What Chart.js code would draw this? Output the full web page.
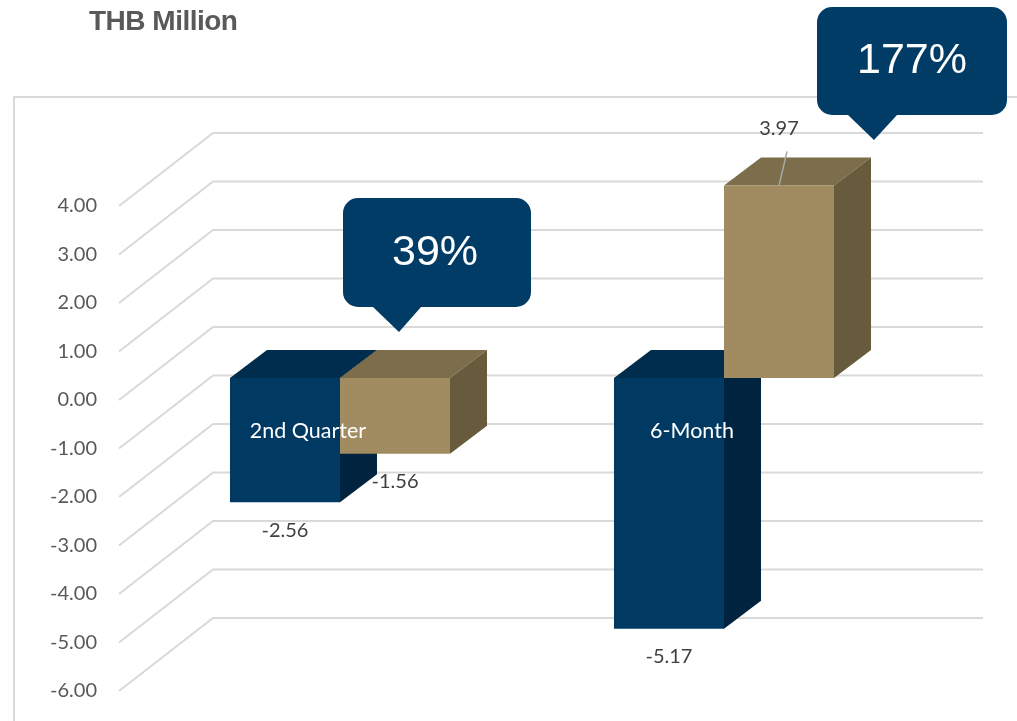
<!DOCTYPE html>
<html>
<head>
<meta charset="utf-8">
<style>
  html, body { margin: 0; padding: 0; background: #fff; }
  canvas { display: block; }
</style>
</head>
<body>
<canvas id="chart" width="1017" height="721"></canvas>
<script src="https://cdn.jsdelivr.net/npm/chart.js@4.4.0/dist/chart.umd.min.js"></script>
<script>
// data
const categories = ['2nd Quarter', '6-Month'];
const lastYear = [-2.56, -5.17];
const thisYear = [-1.56, 3.97];
const yTicks = [4, 3, 2, 1, 0, -1, -2, -3, -4, -5, -6];
const growth = ['39%', '177%'];

// colours: front / top / side
const blue = ['#003A63', '#002D4E', '#00243F'];
const tan = ['#A08C60', '#7C6D4B', '#675A3D'];

// 3d offsets
const BAR_DX = 37, BAR_DY = 28;      // bar depth
const BACK_DX = 65, BACK_DY = 51;    // back wall from bar plane
const FRONT_DX = 29, FRONT_DY = 22;  // front edge from bar plane

function poly(ctx, pts, fill) {
  ctx.beginPath();
  ctx.moveTo(pts[0][0], pts[0][1]);
  for (let i = 1; i < pts.length; i++) ctx.lineTo(pts[i][0], pts[i][1]);
  ctx.closePath();
  ctx.fillStyle = fill;
  ctx.fill();
}

function callout(ctx, x, y, w, h, r, baseL, baseR, tipX, tipY, text, tx, ty) {
  ctx.beginPath();
  ctx.moveTo(x + r, y);
  ctx.lineTo(x + w - r, y);
  ctx.arcTo(x + w, y, x + w, y + r, r);
  ctx.lineTo(x + w, y + h - r);
  ctx.arcTo(x + w, y + h, x + w - r, y + h, r);
  ctx.lineTo(baseR, y + h);
  ctx.lineTo(tipX, tipY);
  ctx.lineTo(baseL, y + h);
  ctx.lineTo(x + r, y + h);
  ctx.arcTo(x, y + h, x, y + h - r, r);
  ctx.lineTo(x, y + r);
  ctx.arcTo(x, y, x + r, y, r);
  ctx.closePath();
  ctx.fillStyle = '#003C66';
  ctx.fill();
  ctx.fillStyle = '#ffffff';
  ctx.font = '43px "Liberation Sans", Arial, sans-serif';
  ctx.textAlign = 'center';
  ctx.textBaseline = 'middle';
  ctx.fillText(text, tx, ty);
}

const box3d = {
  id: 'box3d',
  beforeDraw(chart) {
    const ctx = chart.ctx;
    ctx.save();
    ctx.fillStyle = '#ffffff';
    ctx.fillRect(0, 0, chart.width, chart.height);
    // outer frame
    ctx.strokeStyle = '#d9d9d9';
    ctx.lineWidth = 2;
    ctx.strokeRect(14, 97, 1100, 700);
    ctx.restore();
  },
  beforeDatasetsDraw(chart) {
    const ctx = chart.ctx;
    const y = chart.scales.y;
    const area = chart.chartArea;
    ctx.save();
    // gridlines: diagonal on the floor edge, flat on the back wall
    ctx.strokeStyle = '#d9d9d9';
    ctx.lineWidth = 2;
    yTicks.forEach(v => {
      const py = y.getPixelForValue(v);
      ctx.beginPath();
      ctx.moveTo(area.left - FRONT_DX, py + FRONT_DY);
      ctx.lineTo(area.left + BACK_DX, py - BACK_DY);
      ctx.lineTo(983, py - BACK_DY);
      ctx.stroke();
    });
    // tops and sides of bars; fronts are drawn by the library
    [blue, tan].forEach((col, di) => {
      chart.getDatasetMeta(di).data.forEach(bar => {
        const l = bar.x - bar.width / 2, r = bar.x + bar.width / 2;
        const top = Math.min(bar.y, bar.base), bot = Math.max(bar.y, bar.base);
        poly(ctx, [[l, top], [r, top], [r + BAR_DX, top - BAR_DY], [l + BAR_DX, top - BAR_DY]], col[1]);
        poly(ctx, [[r, top], [r + BAR_DX, top - BAR_DY], [r + BAR_DX, bot - BAR_DY], [r, bot]], col[2]);
      });
    });
    ctx.restore();
  },
  afterDraw(chart) {
    const ctx = chart.ctx;
    const y = chart.scales.y;
    const x = chart.scales.x;
    const area = chart.chartArea;
    ctx.save();

    // title
    ctx.fillStyle = '#595959';
    ctx.font = 'bold 28px "Liberation Sans", Arial, sans-serif';
    ctx.letterSpacing = '-0.5px';
    ctx.textAlign = 'left';
    ctx.textBaseline = 'middle';
    ctx.fillText('THB Million', 89, 22);
    ctx.letterSpacing = '0px';

    // value axis labels on the front edge
    ctx.font = '20px Lato, "Open Sans", sans-serif';
    ctx.textAlign = 'right';
    yTicks.forEach(v => {
      ctx.fillText(v.toFixed(2), area.left - 51, y.getPixelForValue(v) + FRONT_DY);
    });

    // category labels
    ctx.fillStyle = '#ffffff';
    ctx.textAlign = 'center';
    ctx.font = '21.5px Lato, "Open Sans", sans-serif';
    categories.forEach((c, i) => {
      ctx.fillText(c, x.getPixelForValue(i) - 32, y.getPixelForValue(0) + 53);
    });

    // data labels
    ctx.font = '20px Lato, "Open Sans", sans-serif';
    ctx.fillStyle = '#404040';
    [lastYear, thisYear].forEach((series, di) => {
      const meta = chart.getDatasetMeta(di);
      series.forEach((v, i) => {
        const bar = meta.data[i];
        if (v < 0) {
          ctx.fillText(v.toFixed(2), bar.x, bar.y + 28);
        } else {
          ctx.strokeStyle = '#a6a6a6';
          ctx.lineWidth = 1.5;
          ctx.beginPath();
          ctx.moveTo(bar.x, bar.y);
          ctx.lineTo(bar.x + 8, bar.y - 34);
          ctx.stroke();
          ctx.fillText(v.toFixed(2), bar.x, bar.y - 57);
        }
      });
    });

    // growth callouts
    callout(ctx, 343, 198, 188, 109, 15, 373, 421, 399, 332, growth[0], 435, 253);
    callout(ctx, 817, 7, 190, 108, 15, 848, 897, 874, 140, growth[1], 912, 61);

    ctx.restore();
  }
};

const ctx = document.getElementById('chart').getContext('2d');
const chart = new Chart(ctx, {
  type: 'bar',
  data: {
    labels: categories,
    datasets: [
      { data: lastYear, backgroundColor: blue[0], categoryPercentage: 0.573, barPercentage: 1 },
      { data: thisYear, backgroundColor: tan[0], categoryPercentage: 0.573, barPercentage: 1 }
    ]
  },
  options: {
    responsive: false,
    animation: false,
    layout: { padding: { left: 148, right: 101, top: 184, bottom: 52 } },
    scales: {
      x: { display: false, offset: true },
      y: { display: false, min: -6, max: 4 }
    },
    plugins: {
      legend: { display: false },
      tooltip: { enabled: false }
    }
  },
  plugins: [box3d]
});
</script>
</body>
</html>
